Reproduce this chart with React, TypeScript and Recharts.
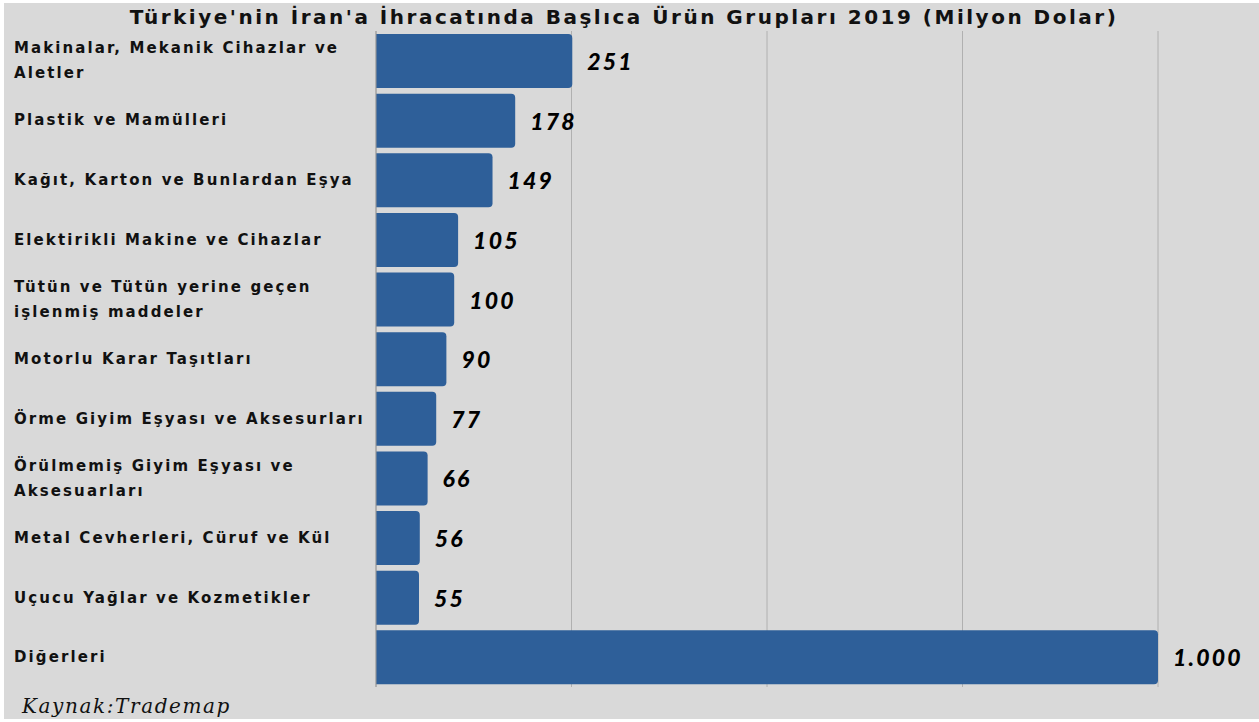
import React from 'react';
import { BarChart, Bar, XAxis, YAxis, CartesianGrid, LabelList } from 'recharts';

const categories = [
  'Makinalar, Mekanik Cihazlar ve\nAletler',
  'Plastik ve Mamülleri',
  'Kağıt, Karton ve Bunlardan Eşya',
  'Elektirikli Makine ve Cihazlar',
  'Tütün ve Tütün yerine geçen\nişlenmiş maddeler',
  'Motorlu Karar Taşıtları',
  'Örme Giyim Eşyası ve Aksesurları',
  'Örülmemiş Giyim Eşyası ve\nAksesuarları',
  'Metal Cevherleri, Cüruf ve Kül',
  'Uçucu Yağlar ve Kozmetikler',
  'Diğerleri',
];

const values = [251, 178, 149, 105, 100, 90, 77, 66, 56, 55, 1000];

const xTicks = [0, 250, 500, 750, 1000];

const data = categories.map((name, i) => ({ name, value: values[i] }));

const formatValue = (v: number) => String(v).replace(/\B(?=(\d{3})+(?!\d))/g, '.');

const labelFont = '"DejaVu Sans", "Noto Sans", sans-serif';
const valueFont = '"Lato", "Noto Sans", sans-serif';

const CategoryTick = (props: any) => {
  const { y, payload } = props;
  const lines: string[] = String(payload.value).split('\n');
  const lineH = 25;
  const startY = y - ((lines.length - 1) * lineH) / 2;
  return (
    <text
      x={10}
      y={startY}
      fill="#111"
      fontFamily={labelFont}
      fontWeight={700}
      fontSize={15}
      letterSpacing={2.1}
      textAnchor="start"
      dominantBaseline="central"
    >
      {lines.map((l, i) => (
        <tspan key={i} x={10} dy={i === 0 ? 0 : lineH}>
          {l}
        </tspan>
      ))}
    </text>
  );
};

const ValueLabel = (props: any) => {
  const { x, y, width, height, value } = props;
  return (
    <text
      x={x + width + 15}
      y={y + height / 2}
      fill="#000"
      fontFamily={valueFont}
      fontWeight={900}
      fontStyle="italic"
      fontSize={23}
      letterSpacing={2.2}
      dominantBaseline="central"
    >
      {formatValue(value)}
    </text>
  );
};

export default function App() {
  return (
    <div
      style={{
        position: 'absolute',
        left: 4,
        top: 3,
        width: 1255,
        height: 716,
        background: '#d9d9d9',
      }}
    >
      <div
        style={{
          position: 'absolute',
          top: 2,
          left: 0,
          width: 1240,
          textAlign: 'center',
          fontFamily: labelFont,
          fontWeight: 700,
          fontSize: 20,
          letterSpacing: 2.5,
          color: '#111',
        }}
      >
        Türkiye'nin İran'a İhracatında Başlıca Ürün Grupları 2019 (Milyon Dolar)
      </div>
      <BarChart
        width={1255}
        height={716}
        data={data}
        layout="vertical"
        margin={{ top: 28, right: 101, bottom: 32, left: 0 }}
        barSize={54}
      >
        <CartesianGrid horizontal={false} stroke="#b0b0b0" />
        <XAxis type="number" domain={[0, 1000]} ticks={xTicks} hide />
        <YAxis
          type="category"
          dataKey="name"
          width={372}
          axisLine={{ stroke: '#9a9a9a' }}
          tickLine={false}
          tick={<CategoryTick />}
          interval={0}
        />
        <Bar dataKey="value" fill="#2e5f99" radius={[0, 4, 4, 0]} isAnimationActive={false}>
          <LabelList dataKey="value" content={<ValueLabel />} />
        </Bar>
      </BarChart>
      <div
        style={{
          position: 'absolute',
          left: 18,
          top: 691,
          fontFamily: '"DejaVu Serif", serif',
          fontStyle: 'italic',
          fontSize: 20,
          letterSpacing: 1.6,
          color: '#111',
        }}
      >
        Kaynak:Trademap
      </div>
    </div>
  );
}
